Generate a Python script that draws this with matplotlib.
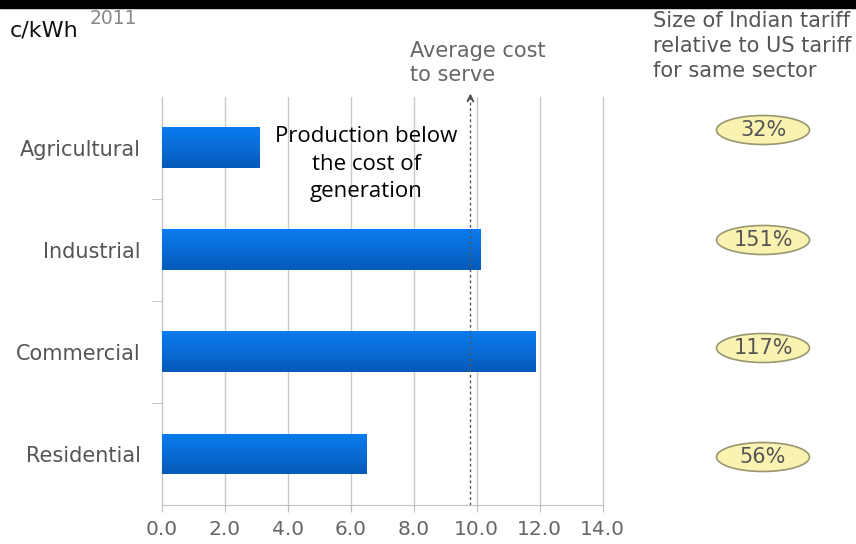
import matplotlib.pyplot as plt
import matplotlib.patches as mpatches
import numpy as np

plt.rcParams['font.family'] = ['DejaVu Sans']

# data
sectors = ['Residential', 'Commercial', 'Industrial', 'Agricultural']
tariff_c_kwh = [6.5, 11.85, 10.1, 3.1]
relative_to_us = ['56%', '117%', '151%', '32%']
oval_y_px = [457, 348, 240, 130]
avg_cost_to_serve = 9.8
x_ticks = [0, 2, 4, 6, 8, 10, 12, 14]

fig = plt.figure(figsize=(8.56, 5.44), dpi=100)
fig.patches.append(mpatches.Rectangle((0, 1 - 8 / 544), 1, 8 / 544,
                                      transform=fig.transFigure, color='black'))

ax = fig.add_axes([0.189, 0.0717, 0.515, 0.7505])
y = np.arange(len(sectors))
bars = ax.barh(y, tariff_c_kwh, height=0.4, color='#0a6fdc', zorder=3)

# vertical gradient inside each bar
grad = np.linspace(0, 1, 64).reshape(-1, 1)
cmap = plt.matplotlib.colors.LinearSegmentedColormap.from_list('b', ['#0659b8', '#096cd6', '#0a7bef'])
for b in bars:
    x0, y0 = b.get_x(), b.get_y()
    w, h = b.get_width(), b.get_height()
    im = ax.imshow(grad, extent=(x0, x0 + w, y0, y0 + h), cmap=cmap,
                   aspect='auto', origin='lower', zorder=4)
    im.set_clip_path(b)

ax.set_xlim(0, 14)
ax.set_ylim(-0.5, 3.5)
ax.set_xticks(x_ticks)
ax.set_xticklabels([f'{v:.1f}' for v in x_ticks], color='#666666', fontsize=14.5)
ax.set_yticks(y)
ax.set_yticklabels(sectors, color='#555555', fontsize=15)
ax.tick_params(axis='y', length=0, pad=15)
ax.set_yticks([0.5, 1.5, 2.5], minor=True)
ax.tick_params(axis='y', which='minor', length=7, color='#bbbbbb', direction='out')
ax.tick_params(axis='x', length=5, color='#bbbbbb', pad=6)
ax.grid(axis='x', color='#c8c8c8', linewidth=1, zorder=0, clip_on=False)
for s in ['top', 'right', 'left']:
    ax.spines[s].set_visible(False)
ax.spines['bottom'].set_color('#c0c0c0')

# average cost to serve marker
ax.axvline(avg_cost_to_serve, color='#555555', linestyle=(0, (2, 2)), linewidth=1, zorder=5)
ax.annotate('', xy=(avg_cost_to_serve, 3.56), xytext=(avg_cost_to_serve, 3.45),
            xycoords='data', annotation_clip=False,
            arrowprops=dict(arrowstyle='->', color='#555555', lw=1.5))
fig.text(410 / 856, 1 - 63 / 544, 'Average cost\nto serve', color='#666666',
         fontsize=15, va='center', ha='left', linespacing=1.2)

ax.text(6.5, 2.84, 'Production below\nthe cost of\ngeneration', ha='center', va='center',
        fontsize=16, family='Open Sans', color='black', linespacing=1.4, zorder=6)

# units and year
fig.text(10 / 856, 1 - 31 / 544, 'c/kWh', fontsize=16, color='#111111', va='center')
fig.text(90 / 856, 1 - 18 / 544, '2011', fontsize=13.5, color='#888888', va='center')

# right-side header and ovals
fig.text(653 / 856, 1 - 46 / 544,
         'Size of Indian tariff\nrelative to US tariff\nfor same sector',
         fontsize=15, color='#555555', va='center', ha='left', linespacing=1.3)
for yp, lab in zip(oval_y_px, relative_to_us):
    yfig = 1 - yp / 544
    e = mpatches.Ellipse((763 / 856, yfig), 93 / 856, 29 / 544, transform=fig.transFigure,
                         facecolor='#f9f2b0', edgecolor='#9a9670', linewidth=1.2)
    fig.patches.append(e)
    fig.text(763 / 856, yfig, lab, ha='center', va='center', fontsize=15, color='#555555')

fig.savefig('out.png', dpi=100)
